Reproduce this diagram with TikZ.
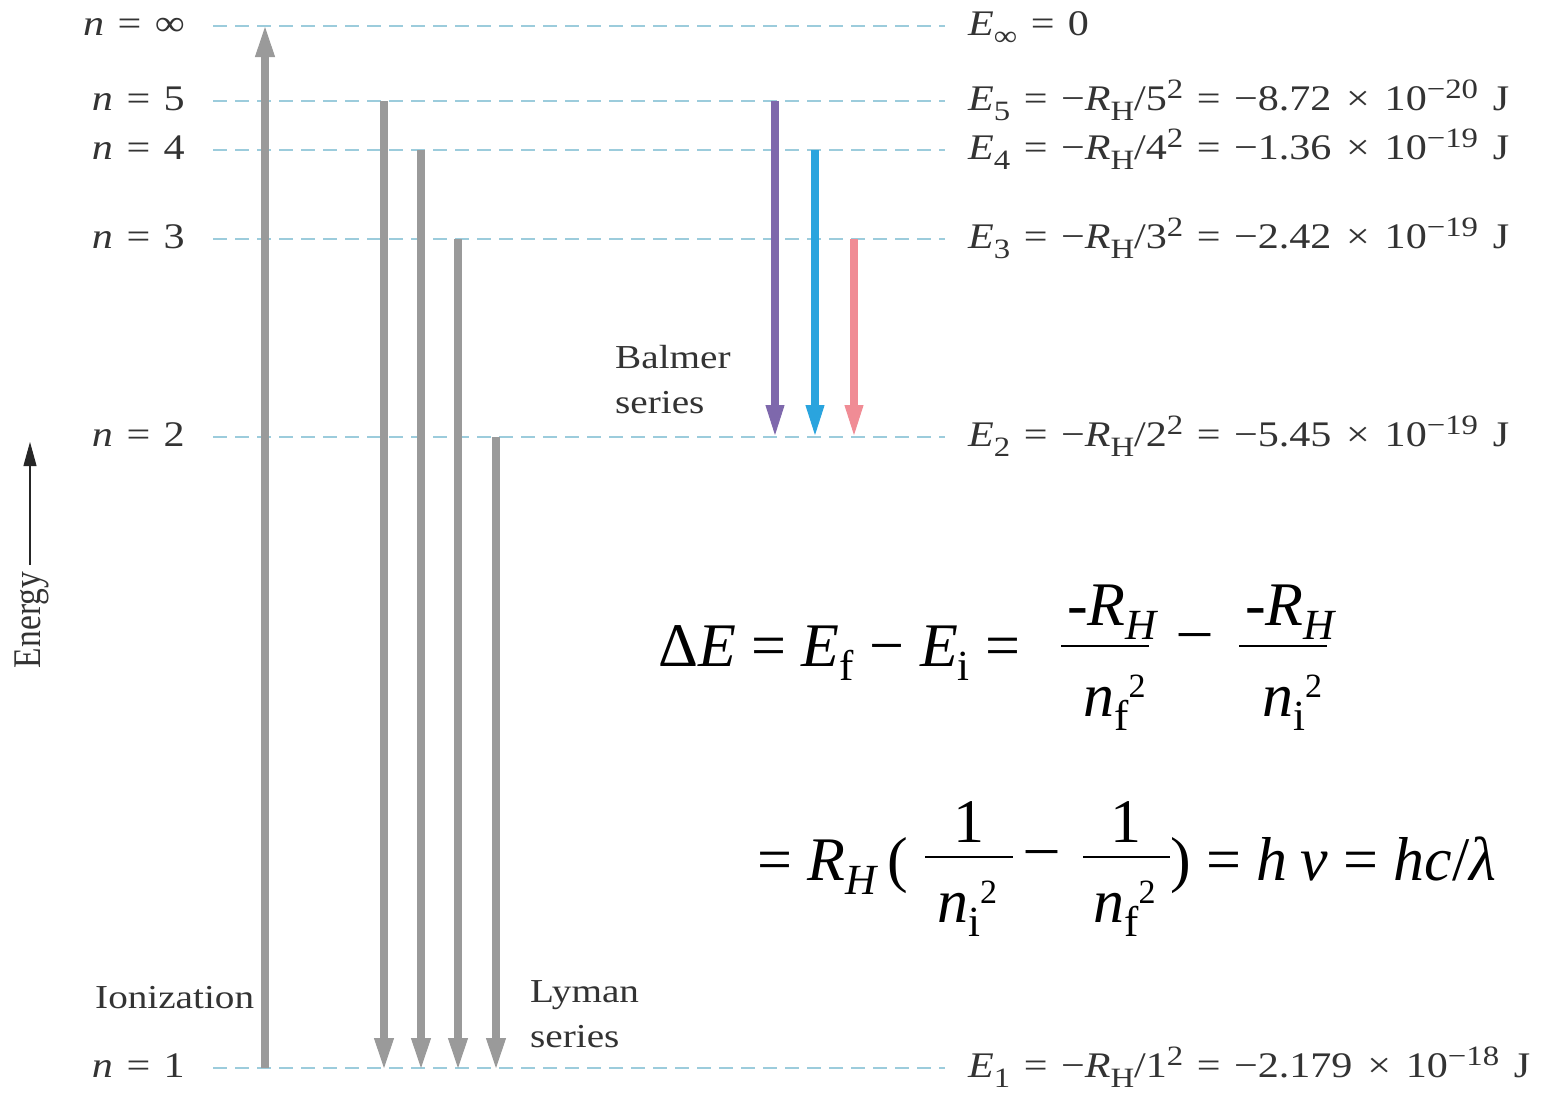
\documentclass[tikz,border=0pt]{standalone}
\usepackage{fontspec}
\setmainfont{Liberation Serif}
\usepackage{graphicx}
\usetikzlibrary{arrows.meta}
\definecolor{lvlc}{HTML}{9CCCDC}
\definecolor{arrgray}{HTML}{9A9A9A}
\definecolor{bpurple}{HTML}{7E68AC}
\definecolor{bblue}{HTML}{2AA4DE}
\definecolor{bpink}{HTML}{F08C95}
\definecolor{txtc}{HTML}{333333}
% diagram text
\newcommand\dfs{\fontsize{33.5}{45}\selectfont}
\newcommand\lfs{\fontsize{36}{45}\selectfont}
\newcommand\dsub[1]{\raisebox{-0.3em}{\fontsize{28}{28}\selectfont #1}}
\newcommand\dsup[1]{\raisebox{0.33em}{\fontsize{28}{28}\selectfont #1}}
\newcommand\deq{\hspace{0.32em}=\hspace{0.32em}}
\newcommand\dtm{\hspace{0.35em}×\hspace{0.35em}}
\newcommand\wide[1]{\scalebox{1.17}[1]{#1}}
\newcommand\twoline[2]{\begin{tabular}[t]{@{}l@{}}\wide{#1}\\\wide{#2}\end{tabular}}
% equation text
\newcommand\efs{\fontsize{62}{70}\selectfont}
\newcommand\esub[1]{\raisebox{-0.23em}{\fontsize{43}{43}\selectfont #1}}
\newcommand\esup[1]{\raisebox{0.3em}{\fontsize{34}{34}\selectfont #1}}
\begin{document}
\begin{tikzpicture}[x=1pt,y=-1pt,
  level/.style={draw=lvlc, line width=2pt, dash pattern=on 14pt off 8pt},
  grayarr/.style={draw=arrgray, fill=arrgray, line width=7.5pt, -{Triangle[width=20pt,length=30pt,line width=1pt]}},
  balarr/.style={line width=8pt, -{Triangle[width=19pt,length=30pt,line width=1pt]}},
  earrow/.style={draw=black!85, line width=2.5pt, -{Triangle[width=13pt,length=24pt,line width=1pt]}},
  dlab/.style={inner sep=0pt, text=txtc, font=\dfs},
  llab/.style={inner sep=0pt, text=txtc, font=\lfs},
  elab/.style={inner sep=0pt, text=black, font=\efs},
  fracbar/.style={draw=black, line width=2.5pt}]
\useasboundingbox (0,0) rectangle (1547,1095);
\fill[white] (0,0) rectangle (1547,1095);

% energy levels
\foreach \n/\y in {inf/26,5/101,4/150,3/239,2/437,1/1068}{
  \coordinate (l\n a) at (213,\y);
  \coordinate (l\n b) at (945,\y);
  \draw[level] (l\n a) -- (l\n b);
}

% left labels
\node[llab, anchor=base east] (ninf) at (185,35)   {\wide{\textit{n}\deq∞}};
\node[llab, anchor=base east] (n5)   at (185,110)  {\wide{\textit{n}\deq5}};
\node[llab, anchor=base east] (n4)   at (185,159)  {\wide{\textit{n}\deq4}};
\node[llab, anchor=base east] (n3)   at (185,248)  {\wide{\textit{n}\deq3}};
\node[llab, anchor=base east] (n2)   at (185,446)  {\wide{\textit{n}\deq2}};
\node[llab, anchor=base east] (n1)   at (185,1077) {\wide{\textit{n}\deq1}};

% right labels
\node[llab, anchor=base west] (Einf) at (968,35)   {\wide{\textit{E}\dsub{∞}\deq0}};
\node[llab, anchor=base west] (E5)   at (968,110)  {\wide{\textit{E}\dsub{5}\deq−\textit{R}\dsub{H}/5\dsup{2}\deq−8.72\dtm10\dsup{−20}\hspace{0.35em}J}};
\node[llab, anchor=base west] (E4)   at (968,159)  {\wide{\textit{E}\dsub{4}\deq−\textit{R}\dsub{H}/4\dsup{2}\deq−1.36\dtm10\dsup{−19}\hspace{0.35em}J}};
\node[llab, anchor=base west] (E3)   at (968,248)  {\wide{\textit{E}\dsub{3}\deq−\textit{R}\dsub{H}/3\dsup{2}\deq−2.42\dtm10\dsup{−19}\hspace{0.35em}J}};
\node[llab, anchor=base west] (E2)   at (968,446)  {\wide{\textit{E}\dsub{2}\deq−\textit{R}\dsub{H}/2\dsup{2}\deq−5.45\dtm10\dsup{−19}\hspace{0.35em}J}};
\node[llab, anchor=base west] (E1)   at (968,1077) {\wide{\textit{E}\dsub{1}\deq−\textit{R}\dsub{H}/1\dsup{2}\deq−2.179\dtm10\dsup{−18}\hspace{0.35em}J}};

% ionization arrow
\coordinate (ion0) at (265,1068);
\coordinate (ion1) at (265,27);
\draw[grayarr] (ion0) -- (ion1);

% Lyman series
\coordinate (ly5) at (384,101);  \coordinate (ly5e) at (384,1068);
\coordinate (ly4) at (421,150);  \coordinate (ly4e) at (421,1068);
\coordinate (ly3) at (458,239);  \coordinate (ly3e) at (458,1068);
\coordinate (ly2) at (496,437);  \coordinate (ly2e) at (496,1068);
\draw[grayarr] (ly5) -- (ly5e);
\draw[grayarr] (ly4) -- (ly4e);
\draw[grayarr] (ly3) -- (ly3e);
\draw[grayarr] (ly2) -- (ly2e);

% Balmer series
\coordinate (ba5) at (775,101);  \coordinate (ba5e) at (775,435);
\coordinate (ba4) at (815,150);  \coordinate (ba4e) at (815,435);
\coordinate (ba3) at (854,239);  \coordinate (ba3e) at (854,435);
\draw[balarr, draw=bpurple, fill=bpurple] (ba5) -- (ba5e);
\draw[balarr, draw=bblue, fill=bblue] (ba4) -- (ba4e);
\draw[balarr, draw=bpink, fill=bpink] (ba3) -- (ba3e);

% series labels
\node[dlab, anchor=base west] (balmer) at (615,368) {\twoline{Balmer}{series}};
\node[dlab, anchor=base west] (lyman)  at (530,1002) {\twoline{Lyman}{series}};
\node[dlab, anchor=base west] (ioniz)  at (95,1008) {\wide{Ionization}};

% energy axis
\coordinate (ea0) at (30,565);
\coordinate (ea1) at (30,442);
\draw[earrow] (ea0) -- (ea1);
\node[dlab, rotate=90, anchor=base] (energy) at (40,620) {\scalebox{1}[1.17]{Energy}};

% equation line 1
\node[elab, anchor=base west] (eqA) at (658,666) {Δ\textit{E} = \textit{E}\esub{f} − \textit{E}\esub{i} =};
\node[elab, anchor=base west] (f1n) at (1067,625) {-\textit{R}\esub{\textit{H}}};
\coordinate (f1a) at (1061,646); \coordinate (f1b) at (1149,646);
\draw[fracbar] (f1a) -- (f1b);
\node[elab, anchor=base west] (f1d) at (1083,716) {\textit{n}\esub{f}\esup{2}};
\node[elab, anchor=base] (mA) at (1195,649) {–};
\node[elab, anchor=base west] (f2n) at (1245,625) {-\textit{R}\esub{\textit{H}}};
\coordinate (f2a) at (1239,646); \coordinate (f2b) at (1327,646);
\draw[fracbar] (f2a) -- (f2b);
\node[elab, anchor=base west] (f2d) at (1262,716) {\textit{n}\esub{i}\esup{2}};

% equation line 2
\node[elab, anchor=base west] (eqB) at (757,880) {= \textit{R}\esub{\textit{H}}\hspace{0.15em}(};
\node[elab, anchor=base] (f3n) at (969,842) {1};
\coordinate (f3a) at (925,857); \coordinate (f3b) at (1013,857);
\draw[fracbar] (f3a) -- (f3b);
\node[elab, anchor=base west] (f3d) at (937,922) {\textit{n}\esub{i}\esup{2}};
\node[elab, anchor=base] (mB) at (1042,866) {–};
\node[elab, anchor=base] (f4n) at (1126,842) {1};
\coordinate (f4a) at (1083,857); \coordinate (f4b) at (1170,857);
\draw[fracbar] (f4a) -- (f4b);
\node[elab, anchor=base west] (f4d) at (1093,922) {\textit{n}\esub{f}\esup{2}};
\node[elab, anchor=base west] (eqC) at (1170,880) {) = \textit{h}\hspace{0.2em}\textit{ν} = \textit{hc}/\textit{λ}};
\end{tikzpicture}
\end{document}
